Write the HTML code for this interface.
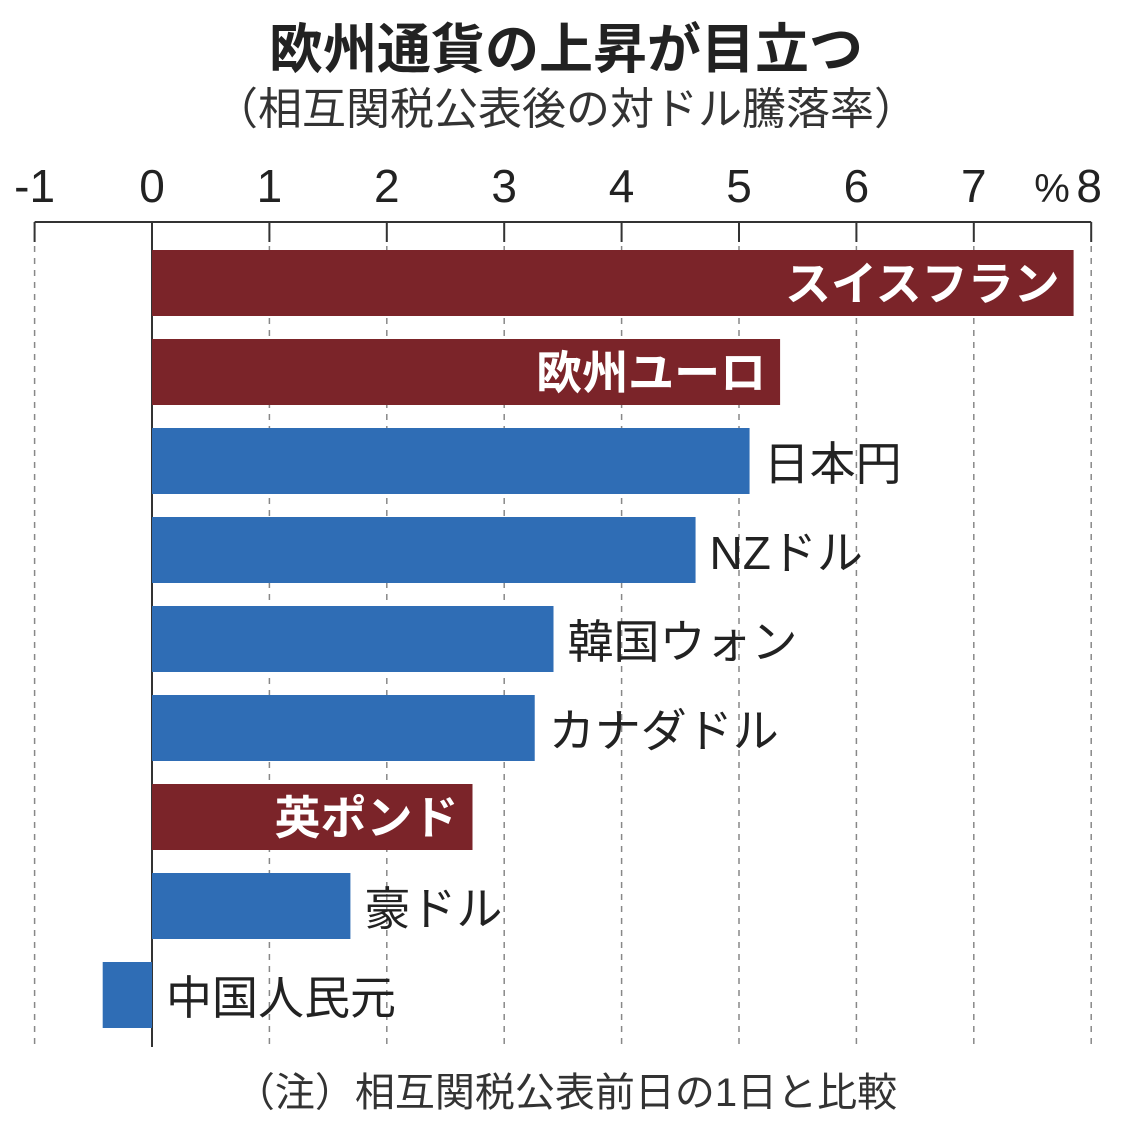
<!DOCTYPE html>
<html><head><meta charset="utf-8"><style>
body{margin:0;background:#fff;width:1132px;height:1134px;overflow:hidden;font-family:"Liberation Sans","Noto Sans CJK JP",sans-serif}
</style></head><body>
<svg width="1132" height="1134" xmlns="http://www.w3.org/2000/svg">
<text x="566" y="68" text-anchor="middle" font-size="54" font-weight="bold" fill="#222" font-family="Liberation Sans,Noto Sans CJK JP,sans-serif">欧州通貨の上昇が目立つ</text>
<text x="566" y="124" text-anchor="middle" font-size="44" fill="#333" font-family="Liberation Sans,Noto Sans CJK JP,sans-serif">（相互関税公表後の対ドル騰落率）</text>
<g id="axis"></g>
<g id="bars"></g>
<text x="566" y="1106" text-anchor="middle" font-size="40" fill="#333" font-family="Liberation Sans,Noto Sans CJK JP,sans-serif">（注）相互関税公表前日の1日と比較</text>
</svg>
<script>
const categories=["スイスフラン","欧州ユーロ","日本円","NZドル","韓国ウォン","カナダドル","英ポンド","豪ドル","中国人民元"];
const values=[7.85,5.35,5.09,4.63,3.42,3.26,2.73,1.69,-0.42];
const isEuro=[true,true,false,false,false,false,true,false,false];
const ticks=[-1,0,1,2,3,4,5,6,7,8];
const NS="http://www.w3.org/2000/svg";
const x=v=>152+v*117.4;
const y=i=>250+i*89;
function mk(t,a,p){const e=document.createElementNS(NS,t);for(const k in a)e.setAttribute(k,a[k]);p.appendChild(e);return e;}
const ax=document.getElementById('axis'),bg=document.getElementById('bars');
const al=mk('line',{x1:x(-1),x2:x(8),y1:222,y2:222,stroke:'#333','stroke-width':2},ax);


ticks.forEach(t=>{
 const g=mk('line',{x1:x(t),x2:x(t),y1:222,y2:1047,stroke:t===0?'#333':'#888','stroke-width':t===0?2:1.5,'stroke-dasharray':t===0?'':'6,6'},ax);
 
 
 const tk=mk('line',{x1:x(t),x2:x(t),y1:222,y2:242,stroke:'#333','stroke-width':2},ax);
 
 
 const tx=mk('text',{x:t===8?x(t)-2:x(t),y:202,'text-anchor':'middle','font-size':46,fill:'#222'},ax);
 tx.textContent=String(t);
 
 
});
const pc=mk('text',{x:1052,y:202,'text-anchor':'middle','font-size':40,fill:'#222'},ax);
pc.textContent='%';


values.forEach((v,i)=>{
 const x0=Math.min(x(0),x(v)),w=Math.abs(x(v)-x(0));
 const r=mk('rect',{x:x0,y:y(i),width:w,height:66,fill:isEuro[i]?'#7b2429':'#2f6db5'},bg);
 
 
 let t;
 if(isEuro[i]){t=mk('text',{x:x(v)-14,y:y(i)+50,'text-anchor':'end','font-size':46,'font-weight':'bold',fill:'#fff'},bg);}
 else{t=mk('text',{x:(v<0?x(0):x(v))+14,y:y(i)+52,'font-size':46,fill:'#222'},bg);}
 t.textContent=categories[i];
 
 
});
</script>
</body></html>
